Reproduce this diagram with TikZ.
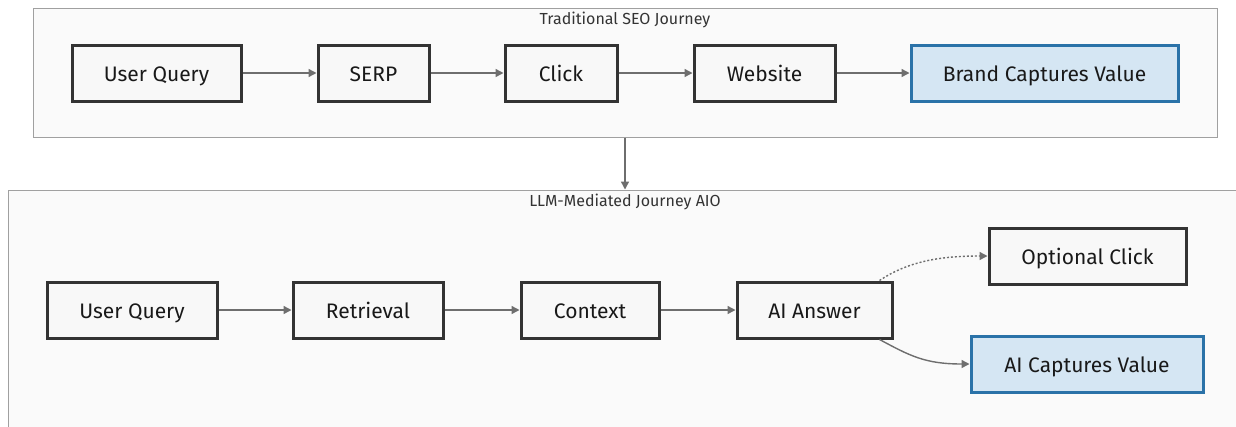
\documentclass[tikz,border=0pt]{standalone}
\usepackage{fontspec}
\setmainfont{Fira Sans}
\usetikzlibrary{arrows.meta}
\definecolor{nodefill}{HTML}{F8F8F8}
\definecolor{nodeline}{HTML}{333333}
\definecolor{valuefill}{HTML}{D5E6F3}
\definecolor{valueline}{HTML}{2A72A8}
\definecolor{clusterfill}{HTML}{FAFAFA}
\definecolor{clusterline}{HTML}{A0A0A0}
\definecolor{edgecol}{HTML}{6E6E6E}
\definecolor{titlecol}{HTML}{333333}
\tikzset{
  box/.style={draw=nodeline, fill=nodefill, line width=3pt, minimum height=56pt, inner sep=0pt, text height=18pt, text depth=1pt, font=\fontsize{21}{24}\selectfont, text=black!90},
  valuebox/.style={box, draw=valueline, fill=valuefill},
  cluster/.style={draw=clusterline, fill=clusterfill, line width=1pt, inner sep=0pt},
  title/.style={font=\fontsize{16}{18}\selectfont, text=titlecol},
  flow/.style={draw=edgecol, line width=1.4pt, -{Triangle[length=8pt,width=8pt]}},
  maybeflow/.style={flow, dash pattern=on 2pt off 2pt}
}
\begin{document}
\begin{tikzpicture}[x=1pt, y=-1pt]
        \useasboundingbox (0,0) rectangle (1236,426);
        \clip (0,0) rectangle (1236,426);
        \fill[white] (0,0) rectangle (1236,426);
        % clusters
        \node[cluster, minimum width=1184pt, minimum height=129pt] (seo) at (625,72.5) {};
        \node[cluster, minimum width=1250pt, minimum height=250pt] (llm) at (633,315) {};
        \node[title] (seotitle) at (625,20) {Traditional SEO Journey};
        \node[title] (llmtitle) at (625,202) {LLM-Mediated Journey AIO};
        % row1
        \node[box, minimum width=169pt] (query1) at (156.5,73) {User Query};
        \node[box, minimum width=111pt] (serp) at (373.5,73) {SERP};
        \node[box, minimum width=112pt] (click) at (561,73) {Click};
        \node[box, minimum width=141pt] (website) at (764.5,73) {Website};
        \node[valuebox, minimum width=267pt] (brand) at (1044.5,73) {Brand Captures Value};
        % row2
        \node[box, minimum width=170pt] (query2) at (132,310) {User Query};
        \node[box, minimum width=150pt] (retrieval) at (368,310) {Retrieval};
        \node[box, minimum width=138pt] (context) at (590,310) {Context};
        \node[box, minimum width=155pt] (answer) at (814.5,310) {AI Answer};
        \node[box, minimum width=197pt] (optclick) at (1087.5,256) {Optional Click};
        \node[valuebox, minimum width=232pt] (aivalue) at (1087,364) {AI Captures Value};
        % edges for row1
        \draw[flow] (query1) -- (serp);
        \draw[flow] (serp) -- (click);
        \draw[flow] (click) -- (website);
        \draw[flow] (website) -- (brand);
        % edge between clusters
        \draw[flow] (seo) -- (seo.south |- llm.north);
        % edges for row2
        \draw[flow] (query2) -- (retrieval);
        \draw[flow] (retrieval) -- (context);
        \draw[flow] (context) -- (answer);
        \draw[maybeflow] ([xshift=-14pt]answer.north east) .. controls +(30,-20) and +(-45,0) .. (optclick.west);
        \draw[flow] ([xshift=-14pt]answer.south east) .. controls +(30,16) and +(-45,0) .. (aivalue.west);
\end{tikzpicture}
\end{document}
